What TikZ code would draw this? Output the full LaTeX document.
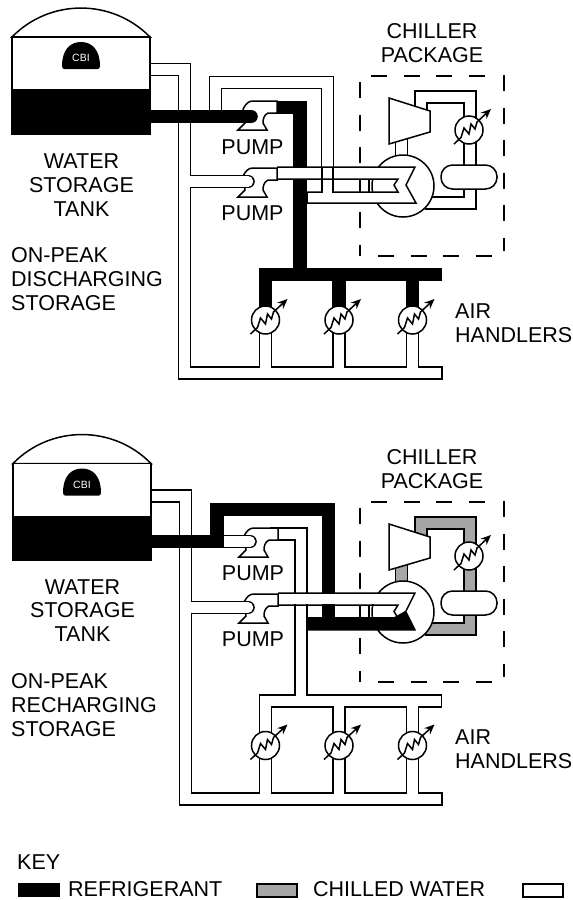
\documentclass[tikz,border=0pt]{standalone}
\usepackage{fontspec}
\setmainfont{Liberation Sans}
\usetikzlibrary{arrows.meta}
\definecolor{chilled}{HTML}{A6A6A6}
\tikzset{
  ln/.style={line width=1.5pt,draw=black,line join=miter},
  lbl/.style={inner sep=0pt,font=\fontsize{21.5}{24}\selectfont,align=center},
  lbll/.style={inner sep=0pt,font=\fontsize{21.5}{24}\selectfont,align=left,anchor=west},
  dashbox/.style={line width=1.5pt,dash pattern=on 16pt off 16.5pt},
  blk/.style={line width=13.5pt,draw=black},
}
% white pipe: outline then core
\newcommand{\pipe}[1]{%
  \draw[line width=13.6pt,black] #1;
  \draw[line width=10.6pt,white] #1;}
\newcommand{\gpipe}[1]{%
  \draw[line width=13.6pt,black] #1;
  \draw[line width=10.6pt,chilled] #1;}
\newcommand{\tankshape}[2]{%
 \begin{scope}[shift={(#1,#2)}]
  \draw[ln,fill=white] (12,37) .. controls (49.8,-1.6) and (112.2,-1.6) .. (150,37) -- cycle;
  \draw[ln,fill=white] (12,37) rectangle (150,90);
  \fill[black] (11.4,90) rectangle (150.6,134.5);
  \fill[black] (62,66) .. controls (62,50) and (70,42) .. (81,42) .. controls (92,42) and (100,50) .. (100,66)
     .. controls (100,68) and (99,69) .. (98,69) -- (64,69) .. controls (63,69) and (62,68) .. (62,66) -- cycle;
 \end{scope}}
\newcommand{\pumpbody}[2]{%
 \begin{scope}[shift={(#1,#2)}]
  \draw[ln,fill=white] (-34,8) .. controls (-31,3) and (-29,0) .. (-24,0) -- (0,0) -- (0,12) -- (-9,12)
     .. controls (-13,14) and (-14,18) .. (-14,22) -- (-10,29) -- (-39,29) -- (-32,22) -- (-34,8);
 \end{scope}}
\newcommand{\coil}[2]{%
 \begin{scope}[shift={(#1,#2)}]
  \draw[ln,fill=white] (0,0) circle (14);
  \draw[line width=1.5pt,line join=miter,-{Stealth[length=10pt,width=8.5pt]}] (-15,14) -- (-8,7.5) -- (-5,-2) -- (0,4) -- (2,-6) -- (6,-1) -- (8,-8) -- (22,-21);
 \end{scope}}
\newcommand{\dashes}[1]{%
 \begin{scope}[shift={(0,#1)}]
  \draw[dashbox] (360,82) -- (360,256);
  \draw[dashbox] (371,76) -- (486,76);
  \draw[dashbox] (504,75) -- (504,251);
  \draw[dashbox] (378,256) -- (492,256);
 \end{scope}}
\newcommand{\machine}[2]{% offset, loop fill pipe command
 \begin{scope}[shift={(0,#1)}]
  #2{(421,115) -- (421,97) -- (470,97) -- (470,203) -- (425,203)}
  #2{(401.5,135) -- (401.5,160)}
  \draw[ln,fill=white] (403,186) circle (31);
  \draw[ln,fill=white] (389,98) -- (430,111) -- (430,132) -- (389,144) -- cycle;
  \draw[ln,fill=white,rounded corners=11.5pt] (441,165) rectangle (497,189);
 \end{scope}
 \coil{469}{\numexpr130+#1\relax}}
\begin{document}
\begin{tikzpicture}[x=1pt,y=-1pt]
\useasboundingbox (0,0) rectangle (573,900);
\fill[white] (0,0) rectangle (573,900);

% ================= TOP DIAGRAM =================
\machine{0}{\pipe}
\dashes{0}
\pipe{(140,69.5) -- (184.5,69.5) -- (184.5,373) -- (441.5,373) (184.5,181.5) -- (240,181.5)
      (265.5,373) -- (265.5,325) (339,373) -- (339,325) (412.5,373) -- (412.5,325)}
\draw[ln] (442,366.2) -- (442,379.8);
\pipe{(215.5,118) -- (215.5,82.5) -- (327.5,82.5) -- (327.5,195)}
% refrigerant column and header
\draw[blk] (277,107.5) -- (300,107.5) -- (300,275);
\draw[blk] (259,274.5) -- (442,274.5);
\draw[blk] (265.5,274) -- (265.5,312);
\draw[blk] (339,274) -- (339,312);
\draw[blk] (412.5,274) -- (412.5,312);
% chiller tube pair
\draw[ln,fill=white] (277,167) -- (415,167) -- (406,185) -- (416,203) -- (307,203) -- (307,192) -- (398,192) -- (394,185) -- (398,179) -- (277,179);
\fill[white] (322.8,190) rectangle (332.2,194);
\draw[ln] (322,167) -- (322,192.7) (333,167) -- (333,192.7);
\draw[ln] (360,179) -- (360,192) (369,179) -- (369,192);
% pumps
\pumpbody{277}{101}
\pumpbody{277}{168}
\draw[line width=13.6pt,black,line cap=round] (232,181.5) -- (248,181.5);
\draw[line width=10.6pt,white,line cap=round] (226,181.5) -- (248,181.5);
\draw[line width=10.6pt,white] (192,181.5) -- (235,181.5);
\draw[line width=13.6pt,line cap=round] (152,116.5) -- (251,116.5);
\tankshape{0}{0}
\coil{265.5}{320}
\coil{339}{320}
\coil{412.5}{320}
\node[text=white,inner sep=0pt,font=\fontsize{10.5}{12}\selectfont] (cbia) at (81,58) {CBI};

\node[lbl] (watera) at (81.5,185) {WATER\\[-0.2pt]STORAGE\\[-0.2pt]TANK};
\node[lbll] (opa) at (11,279) {ON-PEAK\\DISCHARGING\\STORAGE};
\node[lbl] (pumpa1) at (252.5,147) {PUMP};
\node[lbl] (pumpa2) at (252.5,213) {PUMP};
\node[lbl] (chilla) at (432,43) {CHILLER\\PACKAGE};
\node[lbll] (aira) at (455,323.5) {AIR\\HANDLERS};

% ================= BOTTOM DIAGRAM =================
\machine{426}{\gpipe}
\dashes{426}
\pipe{(140,496) -- (185.5,496) -- (185.5,799) -- (441.5,799) (185.5,607.5) -- (240,607.5)
      (265.5,799) -- (265.5,751) (339,799) -- (339,751) (412.5,799) -- (412.5,751)}
\pipe{(265.5,740) -- (265.5,701) -- (441,701) (339,701) -- (339,740) (412.5,701) -- (412.5,740)}
\draw[ln] (441.5,694.2) -- (441.5,707.8);
\draw[ln] (442,792.2) -- (442,805.8);
\pipe{(270,534) -- (301,534) -- (301,695)}
\fill[white] (295.8,693) rectangle (306.2,697);
\draw[blk] (328.5,593) -- (328.5,509.5) -- (217,509.5) -- (217,541);
\draw[blk] (328.5,604) -- (328.5,622);
% tube pair
\fill[white] (277,594) rectangle (410,604.4);
\draw[ln] (278,593) -- (415,593) -- (406,611);
\draw[ln] (278,605) -- (398,605) -- (394,611.5) -- (398,618);
\draw[ln] (307,618) -- (322,618) (335,618) -- (398,618);
\draw[ln] (360,605) -- (360,618) (369,605) -- (369,618);
\fill[black] (307,617.5) -- (393.5,617.5) -- (406,610.5) -- (416,630.5) -- (307,630.5) -- cycle;
% pumps
\pumpbody{278}{528}
\pumpbody{278}{594}
\draw[line width=13.6pt,black,line cap=round] (224,541.5) -- (250,541.5);
\draw[line width=10.6pt,white,line cap=round] (224,541.5) -- (250,541.5);
\draw[line width=13.6pt,black,line cap=round] (232,607.5) -- (248,607.5);
\draw[line width=10.6pt,white,line cap=round] (226,607.5) -- (248,607.5);
\draw[line width=10.6pt,white] (193,607.5) -- (235,607.5);
\draw[line width=13.6pt] (152,541.5) -- (224,541.5);
\tankshape{1}{426.5}
\coil{265.5}{745.5}
\coil{339}{745.5}
\coil{412.5}{745.5}
\node[text=white,inner sep=0pt,font=\fontsize{10.5}{12}\selectfont] (cbib) at (82,485) {CBI};

\node[lbl] (waterb) at (82.5,610.5) {WATER\\[-0.2pt]STORAGE\\[-0.2pt]TANK};
\node[lbll] (opb) at (11,705) {ON-PEAK\\RECHARGING\\STORAGE};
\node[lbl] (pumpb1) at (253,573) {PUMP};
\node[lbl] (pumpb2) at (253,639) {PUMP};
\node[lbl] (chillb) at (432,469) {CHILLER\\PACKAGE};
\node[lbll] (airb) at (455,749.5) {AIR\\HANDLERS};

% ================= KEY =================
\node[lbll] (key) at (17,862) {KEY};
\fill[black] (18,883) rectangle (60,897);
\node[lbll] (kr) at (68,889.5) {REFRIGERANT};
\draw[ln,fill=chilled] (257,884) rectangle (297,897);
\node[lbll] (kc) at (313,889.5) {CHILLED WATER};
\draw[ln,fill=white] (523,884) rectangle (563,897);
\end{tikzpicture}
\end{document}
